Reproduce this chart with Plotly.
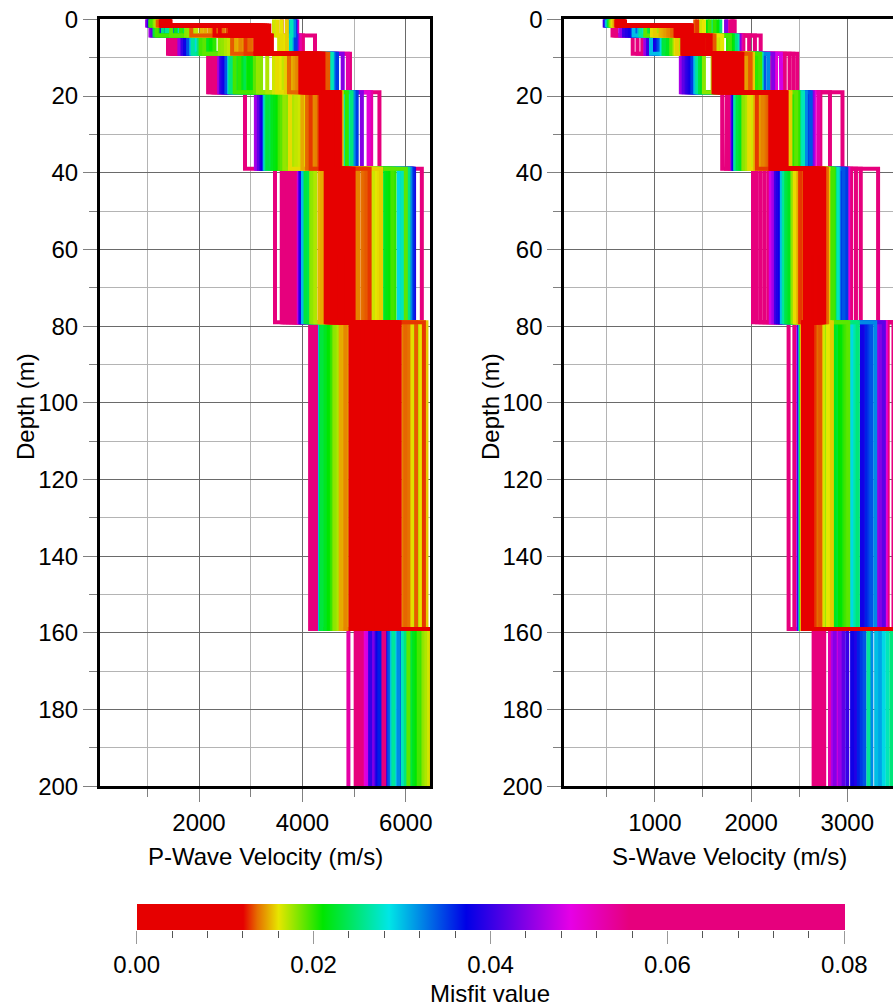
import plotly.graph_objects as go
from plotly.colors import sample_colorscale

# ---------------- data ----------------
# misfit of each inverted model (drawn from worst to best)
MISFIT = [
    0.079, 0.077, 0.075, 0.073, 0.071, 0.069, 0.067, 0.064, 0.061, 0.058,
    0.053, 0.050, 0.048,
    0.046, 0.044, 0.042,
    0.040, 0.038, 0.036, 0.034, 0.032,
    0.030, 0.029, 0.027, 0.025,
    0.023, 0.022, 0.021, 0.020, 0.019,
    0.018, 0.0172, 0.0165, 0.016, 0.0155,
    0.015, 0.0145, 0.014, 0.0137, 0.0133, 0.0128,
    0.0119, 0.0113, 0.0108, 0.0102, 0.0097, 0.0091, 0.0086, 0.0080, 0.0075, 0.0069, 0.0064,
    0.0058, 0.0053, 0.0047, 0.0042, 0.0036, 0.0031, 0.0025, 0.0020, 0.0014, 0.0009, 0.0003,
    0.045, 0.039, 0.035, 0.031, 0.026, 0.0235, 0.0215, 0.0195, 0.0178, 0.0168, 0.0158,
    0.0148, 0.0141, 0.0135,
]

# layer tops (m); last layer is a half-space down to the bottom of the plot
LAYER_TOP = [0, 1.6, 4.2, 9.0, 19.0, 39.0, 79.0, 159.0]
MAX_DEPTH = 200

# P-wave velocity (m/s) per layer
VP_L1 = [3600, 3700, 1350, 1380, 1400, 1420, 1440, 1360, 1390, 1410,
         3900, 1380, 1420,
         1000, 3880, 1020,
         1040, 1060, 3860, 1080, 3840,
         1100, 1120, 3790, 1140,
         1060, 1150, 1100, 1180, 1130,
         1160, 1200, 3450, 3600, 3700,
         1220, 1250, 1270, 1290, 1200, 1300,
         1260, 1280, 1300, 1320, 1340, 1360, 1380, 1400, 1420, 1440, 1450,
         1270, 1290, 1310, 1330, 1350, 1370, 1390, 1410, 1430, 1300, 1320,
         1000, 1040, 3850, 3760, 1080, 1120, 1100, 1060, 1150, 1180, 3520,
         1220, 1240, 1260]
VP_L2 = [3600, 3700, 1400, 1460, 1520, 1580, 1430, 1490, 1550, 2750,
         3900, 2850, 2950,
         1060, 3880, 1100,
         1250, 1350, 3860, 1500, 3840,
         1420, 1600, 3790, 1300,
         1140, 1550, 1200, 1650, 1460,
         1750, 1900, 3450, 3600, 3700,
         2050, 2200, 2350, 2480, 1850, 2560,
         2600, 2640, 2680, 2720, 2760, 2800, 2840, 2880, 2920, 2960, 3000,
         3040, 3080, 3120, 3160, 3200, 3240, 3280, 3320, 3360, 2400, 2300,
         1080, 1280, 3850, 3760, 1380, 1700, 1650, 1180, 1800, 1950, 3520,
         2120, 2270, 2430]
VP_L3 = [4244, 4010, 1400, 1460, 1520, 1580, 1430, 1490, 1550, 3200,
         3950, 3180, 3250,
         1640, 3900, 3300,
         1680, 1730, 3850, 1790, 3800,
         1850, 1920, 3770, 1990,
         2060, 2140, 2220, 2300, 2100,
         2400, 2520, 3550, 3650, 3700,
         2760, 2850, 2940, 3020, 2640, 2900,
         3090, 3110, 3130, 3150, 3170, 3190, 3210, 3230, 3250, 3270, 3290,
         3310, 3330, 3350, 3370, 3390, 3410, 3100, 3160, 3220, 3280, 3340,
         1620, 1760, 3870, 3780, 1880, 2180, 2260, 2030, 2460, 2580, 3600,
         2700, 2800, 2980]
VP_L4 = [2176, 4920, 2260, 2300, 2340, 2280, 2200, 4100, 4200, 4050,
         4880, 4150, 4250,
         2390, 4780, 4300,
         2430, 2490, 4640, 2530, 4600,
         2580, 2660, 4570, 2620,
         2720, 2820, 2950, 2780, 3080,
         3200, 3320, 3450, 3560, 3680,
         3780, 3860, 3930, 4450, 4500, 4420,
         3960, 3980, 4000, 4020, 4040, 4060, 4080, 4100, 4120, 4140, 4160,
         4180, 4200, 4220, 4240, 4260, 4280, 4300, 4320, 4340, 4370, 4400,
         2400, 2460, 4670, 4540, 2600, 2880, 3010, 2690, 3140, 3620, 3510,
         3820, 3900, 3740]
VP_L5 = [2890, 5490, 4400, 4450, 4500, 4550, 4600, 4650, 4700, 4380,
         5330, 5280, 4420,
         3100, 5150, 3160,
         3200, 3240, 5020, 4480, 4990,
         3270, 4900, 4820, 4950,
         3320, 3420, 3520, 4860, 3600,
         3700, 3820, 3950, 4050, 4760,
         4120, 4200, 4280, 4740, 4320, 4160,
         4350, 4370, 4390, 4410, 4430, 4450, 4470, 4490, 4510, 4530, 4550,
         4570, 4590, 4610, 4630, 4650, 4670, 4690, 4710, 4725, 4460, 4580,
         3130, 3220, 5050, 4870, 3290, 3370, 3470, 3560, 3650, 3880, 3760,
         4000, 4240, 4090]
VP_L6 = [3470, 6310, 3600, 3660, 3720, 3780, 3840, 3900, 3630, 3870,
         4600, 4700, 3930,
         3945, 6120, 4650,
         3960, 3985, 6140, 6100, 6080,
         4010, 5860, 5930, 6050,
         4060, 5600, 5700, 5780, 6000,
         4170, 4250, 5360, 5440, 5520,
         4330, 5000, 5080, 5160, 5240, 5300,
         4450, 4475, 4500, 4525, 4550, 4575, 4600, 4625, 4650, 4675, 4700,
         4725, 4750, 4775, 4800, 4825, 4850, 4875, 4900, 4920, 4950, 4990,
         3975, 6160, 6110, 5900, 4100, 4130, 5650, 5740, 4210, 5400, 5480,
         4380, 5040, 5200]
VP_L7 = [4150, 5500, 4160, 4220, 4280, 4310, 4190, 5000, 5300, 5600,
         5100, 5250, 5450,
         5050, 5350, 5550,
         5150, 5400, 5650, 5700, 5750,
         4340, 4400, 5820, 5850,
         4360, 4440, 4510, 4570, 5300,
         4620, 4700, 6150, 6300, 6400,
         4790, 4860, 5950, 6050, 6200, 6350,
         4930, 4975, 5020, 5065, 5110, 5155, 5200, 5245, 5290, 5335, 5380,
         5425, 5470, 5515, 5560, 5605, 5650, 5695, 5740, 5785, 5830, 5880,
         5100, 5200, 5400, 4470, 4380, 4500, 4540, 4600, 4660, 6250, 6100,
         4740, 4830, 5990]
VP_L8 = [5030, 5080, 5130, 5180, 5520, 5570, 5620, 5060, 5150, 5540,
         4890, 5225, 5260,
         5350, 5380, 5420,
         5310, 5450, 5490, 5680, 5850,
         5730, 5780, 5940, 6000,
         6100, 6160, 6220, 6280, 6050,
         6340, 6400, 6450, 6600, 6700,
         6500, 6600, 6700, 6800, 6900, 7000,
         6550, 6600, 6650, 6700, 6750, 6800, 6850, 6900, 6950, 7000, 7050,
         7100, 7150, 7200, 7250, 7300, 7350, 7400, 7450, 7500, 6520, 6580,
         5400, 5660, 5880, 5970, 5760, 6130, 6190, 6250, 6370, 6600, 6650,
         6550, 6700, 6800]

# S-wave velocity (m/s) per layer
VS_L1 = [540, 560, 1800, 1830, 550, 1790, 1815, 620, 620, 620,
         1750, 620, 620,
         480, 1740, 620,
         480, 500, 520, 540, 620,
         500, 520, 1600, 1680,
         520, 540, 1650, 1620, 560,
         540, 560, 1470, 1510, 580,
         580, 590, 600, 610, 1420, 1440,
         600, 605, 610, 615, 620, 625, 630, 635, 640, 645, 650,
         655, 660, 665, 670, 675, 680, 610, 630, 650, 670, 690,
         490, 500, 510, 520, 530, 550, 1550, 1570, 570, 1490, 560,
         590, 600, 605]
VS_L2 = [560, 600, 1800, 1830, 580, 1790, 1815, 1280, 1330, 1230,
         1750, 1270, 1320,
         640, 1740, 1290,
         680, 740, 800, 860, 1360,
         780, 880, 1600, 1680,
         920, 960, 1650, 1620, 900,
         990, 1030, 1470, 1510, 1000,
         1060, 1110, 1160, 1200, 1420, 1440,
         1215, 1225, 1235, 1245, 1255, 1265, 1275, 1285, 1295, 1305, 1315,
         1325, 1335, 1345, 1355, 1365, 1375, 1385, 1220, 1300, 1340, 1380,
         660, 710, 770, 830, 850, 940, 1550, 1570, 1010, 1490, 970,
         1090, 1140, 1180]
VS_L3 = [770, 820, 1920, 1980, 870, 2040, 2100, 1300, 1350, 1400,
         1900, 1320, 1370,
         900, 1880, 1340,
         930, 990, 1030, 1050, 1360,
         960, 1070, 1860, 1840,
         1090, 1130, 1790, 1760, 1170,
         1200, 1250, 1650, 1700, 1230,
         1440, 1490, 1540, 1590, 1620, 1460,
         1285, 1295, 1305, 1315, 1325, 1335, 1345, 1355, 1365, 1375, 1385,
         1395, 1405, 1415, 1430, 1450, 1480, 1510, 1550, 1580, 1300, 1400,
         910, 1010, 1040, 1080, 1110, 1150, 1810, 1780, 1270, 1680, 1215,
         1510, 1565, 1600]
VS_L4 = [2350, 2400, 2440, 2480, 1700, 1750, 1800, 1650, 1850, 1720,
         2200, 2260, 2310,
         1270, 2230, 1300,
         1330, 1370, 1410, 2140, 2180,
         1420, 1450, 2110, 2080,
         1470, 1490, 2040, 2060, 1780,
         1510, 1600, 1950, 1990, 2020,
         1930, 1960, 1620, 1640, 1990, 1900,
         1610, 1625, 1640, 1655, 1670, 1685, 1700, 1715, 1730, 1745, 1760,
         1775, 1790, 1805, 1820, 1835, 1850, 1865, 1880, 1895, 1910, 1680,
         1285, 1350, 1390, 1430, 1440, 1480, 2050, 2095, 1700, 1970, 1940,
         1920, 2000, 1800]
VS_L5 = [2720, 2950, 2820, 2300, 1700, 1740, 1780, 2250, 2340, 2280,
         2700, 2660, 2320,
         1810, 2640, 2290,
         1815, 1825, 2600, 2620, 2570,
         1840, 1850, 2540, 2500,
         1860, 1890, 2450, 2490, 2470,
         1920, 1960, 2000, 2380, 2410,
         2040, 2080, 2120, 2160, 2190, 2060,
         2200, 2210, 2220, 2230, 2240, 2250, 2260, 2270, 2280, 2290, 2300,
         2310, 2320, 2330, 2340, 2350, 2360, 2370, 2215, 2245, 2275, 2335,
         1805, 1820, 2590, 2520, 1835, 1875, 2440, 2460, 1940, 2395, 1980,
         2100, 2140, 2175]
VS_L6 = [3040, 3320, 3090, 3140, 2020, 2060, 2100, 2140, 2180, 2650,
         2700, 3010, 2205,
         2230, 2970, 2680,
         2260, 2300, 2930, 2960, 2620,
         2320, 2350, 2900, 2870,
         2380, 2400, 2840, 2860, 2600,
         2430, 2460, 2470, 2780, 2805,
         2490, 2520, 2540, 2790, 2550, 2510,
         2560, 2570, 2580, 2590, 2600, 2610, 2620, 2630, 2640, 2650, 2660,
         2670, 2680, 2690, 2700, 2710, 2720, 2730, 2740, 2750, 2760, 2575,
         2245, 2280, 2990, 2910, 2340, 2365, 2830, 2850, 2445, 2795, 2455,
         2500, 2530, 2775]
VS_L7 = [3420, 3480, 3520, 3560, 2390, 2450, 2580, 2600, 2620, 2560,
         2590, 3400, 2570,
         2490, 3350, 3380,
         2500, 3150, 3200, 3250, 3290,
         2510, 3040, 3080, 3110,
         2520, 2870, 2920, 2970, 3010,
         2525, 2700, 2750, 2800, 2840,
         2530, 2640, 2670, 2690, 2720, 2660,
         2540, 2545, 2550, 2555, 2560, 2565, 2570, 2575, 2580, 2585, 2590,
         2595, 2600, 2605, 2610, 2615, 2620, 2625, 2630, 2635, 2548, 2612,
         3320, 3180, 3230, 3060, 3095, 2895, 2945, 2990, 2775, 2820, 2730,
         2650, 2680, 2710]
VS_L8 = [2650, 2680, 2710, 2740, 2760, 2700, 2725, 2665, 2695, 2750,
         2820, 2900, 2940,
         2850, 2870, 2960,
         3000, 3050, 3120, 3180, 3250,
         3300, 3380, 3420, 3460,
         3550, 3600, 3650, 3700, 3520,
         3600, 3650, 3700, 3750, 3800,
         3650, 3700, 3750, 3800, 3850, 3900,
         3600, 3620, 3640, 3660, 3680, 3700, 3720, 3740, 3760, 3780, 3800,
         3820, 3840, 3860, 3880, 3900, 3920, 3940, 3960, 3980, 4000, 3610,
         2920, 3080, 3150, 3340, 3220, 3560, 3620, 3680, 3630, 3680, 3720,
         3700, 3760, 3820]

VP = [VP_L1, VP_L2, VP_L3, VP_L4, VP_L5, VP_L6, VP_L7, VP_L8]
VS = [VS_L1, VS_L2, VS_L3, VS_L4, VS_L5, VS_L6, VS_L7, VS_L8]
for arr in VP + VS:
    assert len(arr) == len(MISFIT), len(arr)

MISFIT_TICKS = [0.00, 0.02, 0.04, 0.06, 0.08]

# ---------------- styling ----------------
W, H = 893, 1006
FONT = "Liberation Sans, Arial, Helvetica, sans-serif"
CMAX = 0.08
CS = [
    [0.0, "rgb(230,0,0)"],
    [0.15, "rgb(230,0,0)"],
    [0.17, "rgb(230,110,0)"],
    [0.20, "rgb(230,230,0)"],
    [0.2625, "rgb(0,230,0)"],
    [0.356, "rgb(0,230,230)"],
    [0.465, "rgb(0,0,230)"],
    [0.6125, "rgb(230,0,230)"],
    [0.695, "rgb(230,0,125)"],
    [1.0, "rgb(230,0,125)"],
]
MAJ_GRID = "#6a6a6a"
MIN_GRID = "#b4b4b4"
TICK_COL = "#808080"
LINE_W = 4


def fx(px):
    return px / W


def fy(px):
    return 1 - px / H


fig = go.Figure()

bottoms = LAYER_TOP[1:] + [MAX_DEPTH]
order = sorted(range(len(MISFIT)), key=lambda i: -MISFIT[i])
for i in order:
    col = sample_colorscale(CS, [MISFIT[i] / CMAX])[0]
    for layers, xa, ya in ((VP, "x", "y"), (VS, "x2", "y2")):
        xs, ys = [], []
        for k in range(len(LAYER_TOP)):
            v = layers[k][i]
            xs += [v, v]
            ys += [LAYER_TOP[k], bottoms[k]]
        fig.add_trace(go.Scatter(x=xs, y=ys, mode="lines",
                                 line=dict(color=col, width=LINE_W),
                                 xaxis=xa, yaxis=ya, showlegend=False,
                                 hoverinfo="skip"))

# colour bar (carried by an invisible marker)
fig.add_trace(go.Scatter(
    x=[0.04], y=[0.5], mode="markers", xaxis="x3", yaxis="y3",
    showlegend=False, hoverinfo="skip",
    marker=dict(size=1, opacity=0, color=[0.0], cmin=0, cmax=CMAX,
                colorscale=CS, showscale=True,
                colorbar=dict(orientation="h", x=fx(136.7), xanchor="left",
                              y=fy(904), yanchor="top", yref="paper",
                              len=707.6, lenmode="pixels",
                              thickness=26, thicknessmode="pixels",
                              xpad=0, ypad=0, outlinewidth=0,
                              showticklabels=False, ticks=""))))


def vel_axis(domain, rng, anchor, dtick, minor_dtick, mirror=True):
    return dict(domain=domain, range=rng, anchor=anchor, dtick=dtick, tick0=0,
                automargin=False,
                ticks="outside", ticklen=13, tickwidth=1, tickcolor=TICK_COL,
                showline=True, linecolor="black", linewidth=3, mirror=mirror,
                showgrid=True, gridcolor=MAJ_GRID, gridwidth=1, zeroline=False,
                tickfont=dict(size=24, family=FONT, color="black"),
                minor=dict(dtick=minor_dtick, tick0=0, ticks="outside", ticklen=8,
                           tickwidth=1, tickcolor=TICK_COL, showgrid=True,
                           gridcolor=MIN_GRID, gridwidth=1))


def depth_axis(domain, anchor, mirror):
    return dict(domain=domain, range=[MAX_DEPTH, 0], anchor=anchor, dtick=20, tick0=0,
                automargin=False,
                ticks="outside", ticklen=14, tickwidth=1, tickcolor=TICK_COL,
                showline=True, linecolor="black", linewidth=3, mirror=mirror,
                showgrid=True, gridcolor=MAJ_GRID, gridwidth=1, zeroline=False,
                tickfont=dict(size=24, family=FONT, color="black"),
                minor=dict(dtick=10, tick0=0, ticks="outside", ticklen=8,
                           tickwidth=1, tickcolor=TICK_COL, showgrid=True,
                           gridcolor=MIN_GRID, gridwidth=1))


ydom = [fy(786.3), fy(19.3)]
fig.update_layout(
    template="none",
    width=W, height=H, margin=dict(l=0, r=0, t=0, b=0, autoexpand=False),
    paper_bgcolor="white", plot_bgcolor="white",
    font=dict(family=FONT, size=24, color="black"),
    xaxis=vel_axis([fx(100), fx(430)], [85, 6468], "y", 2000, 1000),
    yaxis=depth_axis(ydom, "x", True),
    xaxis2=vel_axis([fx(564.3), 1.0], [59, 3475], "y2", 1000, 500),
    yaxis2=depth_axis(ydom, "x2", False),
    xaxis3=dict(domain=[fx(136.7), fx(844.3)], range=[0, CMAX], anchor="y3",
                automargin=False,
                showgrid=False, zeroline=False, showline=False,
                tickmode="array", tickvals=MISFIT_TICKS, tickformat=".2f",
                ticks="outside", ticklen=13, tickwidth=1, tickcolor="#999999",
                tickfont=dict(size=24, family=FONT, color="black"),
                minor=dict(dtick=0.004, tick0=0, ticks="outside", ticklen=7,
                           tickwidth=1, tickcolor="#555555", showgrid=False),
                fixedrange=True),
    yaxis3=dict(domain=[fy(930), fy(904)], range=[0, 1], anchor="x3",
                automargin=False, visible=False, fixedrange=True),
    annotations=[
        dict(text="P-Wave Velocity (m/s)", x=fx(265), y=fy(856), xref="paper", yref="paper",
             showarrow=False, xanchor="center", yanchor="middle", font=dict(size=24)),
        dict(text="S-Wave Velocity (m/s)", x=fx(729), y=fy(856), xref="paper", yref="paper",
             showarrow=False, xanchor="center", yanchor="middle", font=dict(size=24)),
        dict(text="Depth (m)", x=fx(25), y=fy(407), xref="paper", yref="paper",
             showarrow=False, xanchor="center", yanchor="middle", textangle=-90,
             font=dict(size=24)),
        dict(text="Depth (m)", x=fx(490), y=fy(407), xref="paper", yref="paper",
             showarrow=False, xanchor="center", yanchor="middle", textangle=-90,
             font=dict(size=24)),
        dict(text="Misfit value", x=fx(490), y=fy(993), xref="paper", yref="paper",
             showarrow=False, xanchor="center", yanchor="middle", font=dict(size=24)),
    ],
)

fig.write_html("out.html")
